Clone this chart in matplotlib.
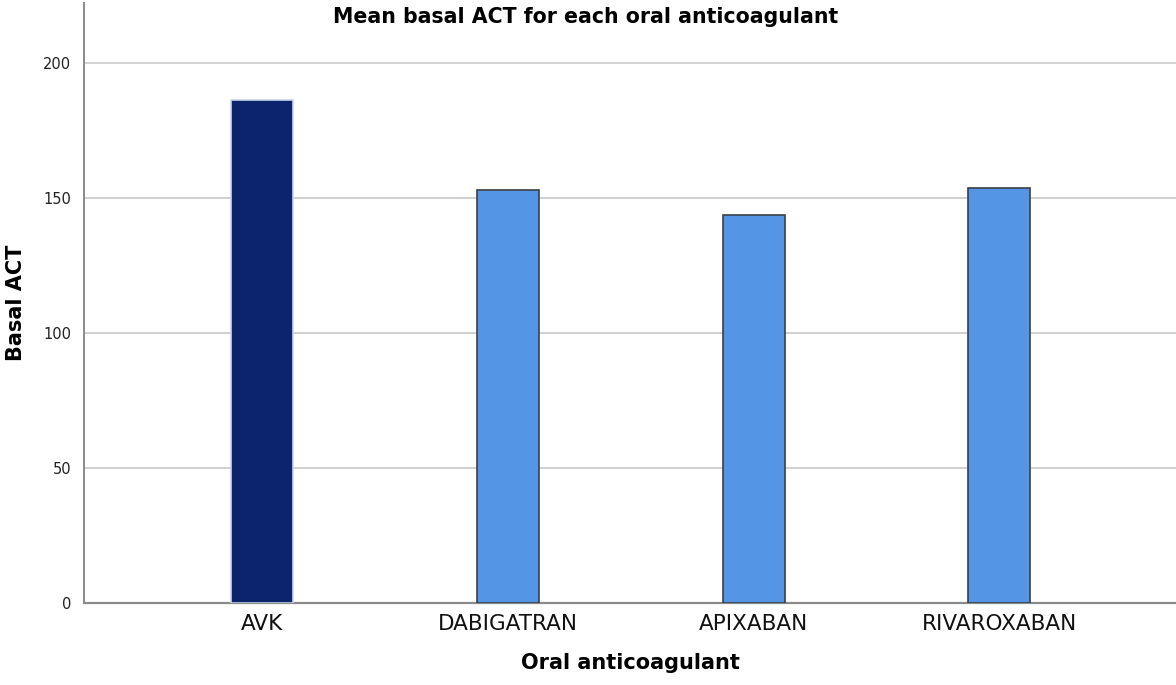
import matplotlib
matplotlib.use("Agg")
import matplotlib.pyplot as plt

categories = ["AVK", "DABIGATRAN", "APIXABAN", "RIVAROXABAN"]
mean_basal_act = [186.3, 152.8, 143.8, 153.6]
yticks = [0, 50, 100, 150, 200]

plt.rcParams['font.family'] = ['DejaVu Sans']

fig = plt.figure(figsize=(11.76, 6.85), dpi=100)
ax = fig.add_axes([84/1176, 82.3/685, 1 - 84/1176, 599.7/685])

colors = ["#0b246b", "#5595e5", "#5595e5", "#5595e5"]
edges = ["#c9d3ea", "#3a3f48", "#3a3f48", "#3a3f48"]
x = list(range(len(categories)))
ax.bar(x, mean_basal_act, width=0.252, color=colors, edgecolor=edges, linewidth=1.2, zorder=3)

ax.set_xlim(-0.723, 3.718)
ax.set_ylim(0, 222.3)
ax.set_yticks(yticks)
ax.set_yticklabels([str(t) for t in yticks], fontsize=10.5, color="#222222")
ax.set_xticks(x)
ax.set_xticklabels(categories, fontsize=15.5, color="#111111")
ax.tick_params(axis="y", length=0, pad=9)
ax.tick_params(axis="x", length=0, pad=8)

ax.grid(axis="y", color="#c8c8c8", linewidth=1.2, zorder=0)
for s in ["top", "right"]:
    ax.spines[s].set_visible(False)
ax.spines["left"].set_color("#8a8a8a")
ax.spines["bottom"].set_color("#8a8a8a")
ax.spines["left"].set_linewidth(1.4)
ax.spines["bottom"].set_linewidth(1.6)

ax.set_xlabel("Oral anticoagulant", fontsize=15, fontweight="bold", labelpad=14)
fig.text(16/1176, 1 - 303/685, "Basal ACT", rotation=90, ha="center", va="center",
         fontsize=15, fontweight="bold")
fig.text(586/1176, 1 - 17/685, "Mean basal ACT for each oral anticoagulant",
         ha="center", va="center", fontsize=14.8, fontweight="bold")

fig.savefig("out.png", dpi=100)
